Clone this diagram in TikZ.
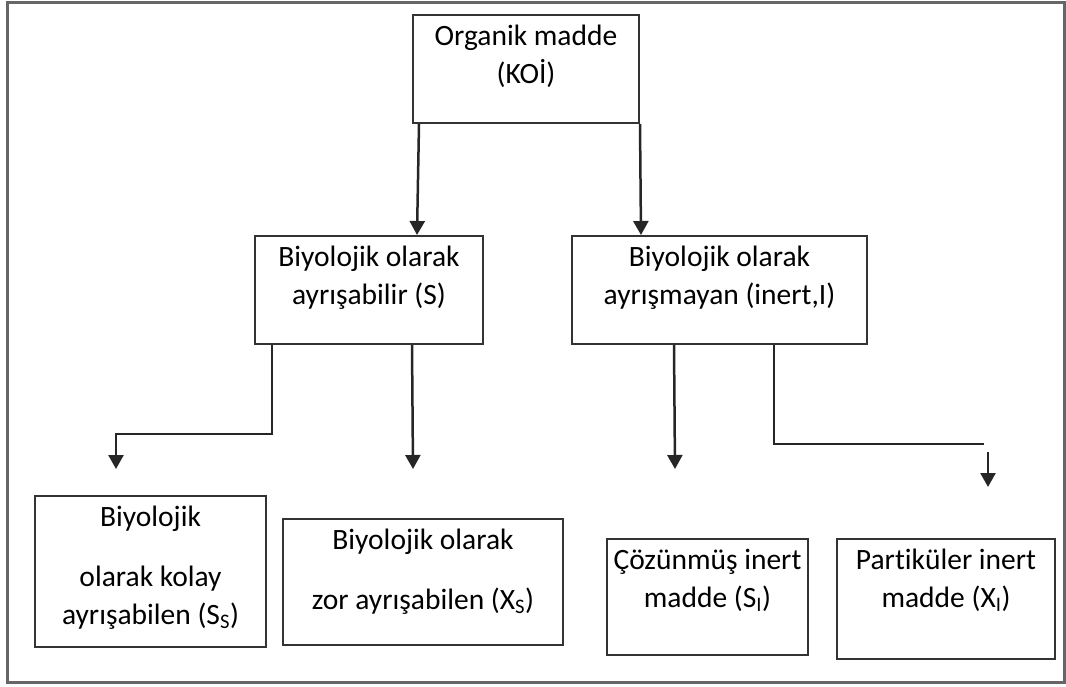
\documentclass[tikz,border=0pt]{standalone}
\usepackage{fontspec}
\setmainfont{Carlito}[Ligatures=NoCommon]
\usetikzlibrary{arrows.meta}
\newcommand{\boxtext}[3]{\parbox[c][#2pt][t]{#1pt}{\centering\rule{0pt}{30pt}#3}}

\begin{document}
\begin{tikzpicture}[x=1pt,y=-1pt,
  every node/.style={draw=black!80,line width=2pt,rectangle,inner sep=0pt,font=\fontsize{29.5}{38}\selectfont},
  line/.style={draw=black!85,line width=2.5pt},
  arr/.style={line,-{Triangle[length=14pt,width=15pt]}}]
  \useasboundingbox (0,0) rectangle (1066,686);
  \draw[black!60,line width=3pt] (7,2) rectangle (1064,682);

  \node (koi) at (526,69) {\boxtext{226}{108}{Organik madde\\(KOİ)}};
  \node (bio) at (369,290) {\boxtext{228}{108}{Biyolojik olarak\\ayrışabilir (S)}};
  \node (inert) at (719.5,290) {\boxtext{295}{108}{Biyolojik olarak\\ayrışmayan (inert,I)}};
  \node (kolay) at (150.5,571.5) {\boxtext{231}{151}{Biyolojik\\[22pt]olarak kolay\\ayrışabilen (S\textsubscript{S})}};
  \node (zor) at (423,582) {\boxtext{280}{126}{Biyolojik olarak\\[22pt]zor ayrışabilen (X\textsubscript{S})}};
  \node (si) at (707.5,597) {\boxtext{201}{116}{Çözünmüş inert\\madde (S\textsubscript{I})}};
  \node (xi) at (946,599) {\boxtext{218}{120}{Partiküler inert\\madde (X\textsubscript{I})}};

  \coordinate (ss tip) at (116,469);
  \coordinate (xs tip) at (413,469);
  \coordinate (si tip) at (675,469);
  \coordinate (xi bend) at (984,444);
  \coordinate (xi start) at (988,452);
  \coordinate (xi tip) at (988,487);

  \draw[arr] ([xshift=7pt]koi.south west) -- ([xshift=163pt]bio.north west);
  \draw[arr] (koi.south east) -- ([xshift=70pt]inert.north west);
  \draw[arr] ([xshift=18pt]bio.south west) -- ++(0,89) -| (ss tip);
  \draw[arr] ([xshift=158pt]bio.south west) -- (xs tip);
  \draw[arr] ([xshift=103pt]inert.south west) -- (si tip);
  \draw[line] ([xshift=203pt]inert.south west) -- ++(0,99) -- (xi bend);
  \draw[arr] (xi start) -- (xi tip);
\end{tikzpicture}
\end{document}
